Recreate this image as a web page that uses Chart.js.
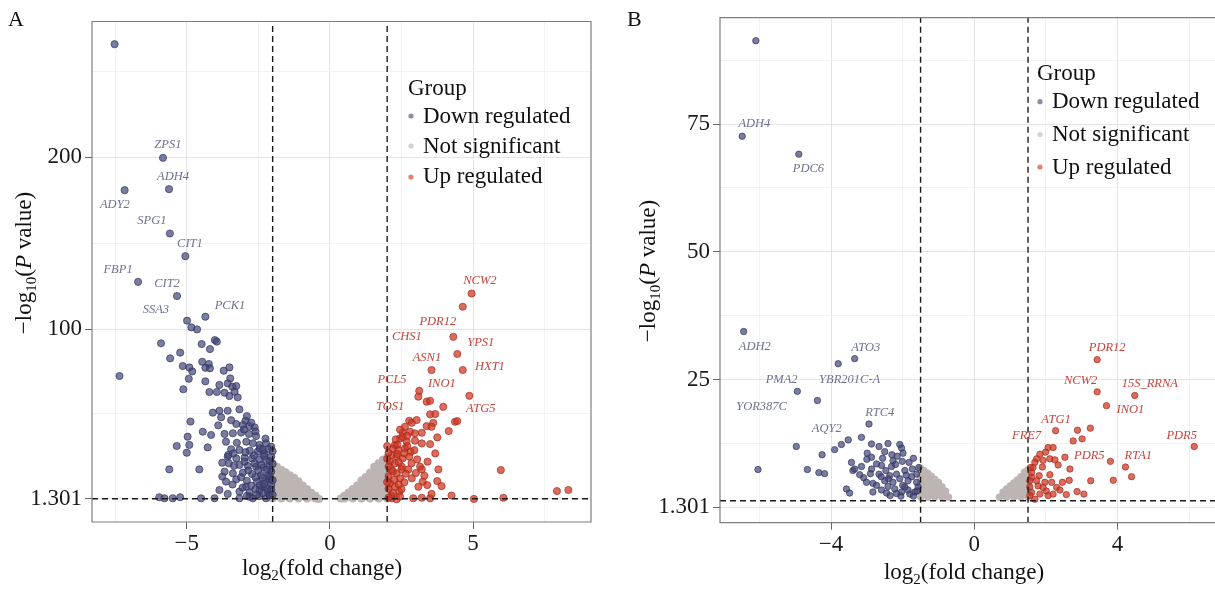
<!DOCTYPE html>
<html>
<head>
<meta charset="utf-8">
<script src="https://cdn.jsdelivr.net/npm/chart.js@4.4.1/dist/chart.umd.min.js"></script>
<style>
  html, body { margin: 0; padding: 0; background: #fff; }
  #wrap { position: relative; width: 1215px; height: 589px; overflow: hidden; }
  .panel { position: absolute; top: 0; height: 589px; }
</style>
</head>
<body>
<div id="wrap">
  <div class="panel" style="left:0;width:607px"><canvas id="chartA" width="607" height="589"></canvas></div>
  <div class="panel" style="left:607px;width:608px"><canvas id="chartB" width="608" height="589"></canvas></div>
</div>
<script>
const groups = ['Down regulated', 'Not significant', 'Up regulated'];

// ---- panel A : [log2 fold change, -log10 P] ----
const downA = [
  [-7.52,265.7],[-5.83,199.6],[-7.17,180.8],[-5.62,181.4],[-5.59,155.6],[-5.05,142.4],[-6.70,127.5],[-5.34,119.2],
  [-4.35,107.2],[-4.99,104.9],[-4.84,101.0],[-4.64,99.8],[-5.90,91.7],[-4.02,93.6],[-3.95,92.7],[-4.48,91.3],
  [-4.19,88.4],[-5.23,86.3],[-5.58,83.0],[-4.46,81.0],[-4.23,79.7],[-5.14,78.5],[-4.91,77.7],[-4.35,77.5],
  [-4.19,77.2],[-4.81,75.4],[-3.71,75.8],[-3.51,77.7],[-7.35,72.7],[-4.93,71.1],[-4.35,69.6],[-3.86,67.5],
  [-3.48,71.3],[-3.57,68.4],[-3.41,66.5],[-3.27,66.9],[-5.12,65.0],[-4.21,63.4],[-3.95,63.4],[-3.68,63.0],
  [-3.51,61.1],[-3.22,60.3],[-3.33,63.6],[-4.09,51.4],[-3.86,52.5],[-3.57,52.5],[-3.80,48.7],[-3.16,53.3],
  [-2.90,49.4],[-2.95,46.7],[-4.87,46.2],[-3.27,44.8],[-3.04,44.2],[-2.81,43.6],[-2.63,42.9],[-4.44,40.3],
  [-4.15,38.4],[-3.68,39.0],[-3.39,39.4],[-3.10,39.8],[-2.83,39.0],[-2.58,37.8],[-4.97,37.4],[-3.63,34.5],
  [-3.25,33.9],[-2.92,34.5],[-2.69,33.6],[-2.46,32.6],[-4.91,32.6],[-5.35,32.0],[-4.27,31.2],[-3.45,30.1],
  [-3.16,29.7],[-2.80,29.3],[-2.52,28.7],[-2.29,27.7],[-5.00,28.1],[-3.57,25.8],[-3.27,24.8],[-2.98,25.2],
  [-2.72,24.8],[-2.46,24.2],[-2.23,23.9],[-3.53,21.9],[-3.16,21.0],[-2.87,20.4],[-2.58,20.0],[-2.32,19.6],
  [-2.11,20.4],[-5.61,18.4],[-4.56,18.4],[-3.68,17.1],[-3.39,16.1],[-3.04,16.5],[-2.72,15.7],[-2.40,15.1],
  [-2.13,15.7],[-3.76,14.2],[-3.27,12.6],[-2.90,11.8],[-2.55,11.3],[-2.25,11.8],[-3.86,6.4],[-3.57,4.1],
  [-3.16,5.5],[-2.81,4.9],[-2.46,6.4],[-2.17,5.5],[-5.96,2.2],[-5.78,1.6],[-5.49,1.6],[-5.23,2.2],
  [-4.50,1.6],[-4.03,1.6],[-3.16,1.6],[-2.69,1.6],[-2.23,1.6],[-2.93,8.4],[-2.34,8.4],[-2.05,9.3],
  [-2.05,25.8],[-2.05,31.6],[-2.23,33.6],[-2.34,29.7],[-2.63,21.9],[-2.98,22.9],[-3.37,27.7],[-3.76,22.3],
  [-3.63,11.3],[-2.11,3.5],[-2.46,2.9],[-2.81,2.5],
  [-2.15,30.2],[-2.30,26.1],[-2.10,23.2],[-2.40,21.0],[-2.20,18.3],[-2.05,17.2],[-2.50,17.8],[-2.35,13.6],
  [-2.10,12.8],[-2.60,13.9],[-2.75,8.9],[-2.45,9.2],[-2.20,7.4],[-2.05,6.6],[-2.60,6.9],[-2.35,4.5],
  [-2.10,3.2],[-2.55,3.6],[-2.90,3.0],[-3.05,7.8],[-3.40,9.6],[-3.10,13.9],[-2.85,17.8],[-2.65,26.5],
  [-2.45,30.6],[-2.95,28.4],[-3.35,20.5],[-3.55,26.8],[-2.25,36.3],[-2.60,40.5],[-3.00,41.6],[-2.75,45.6],
  [-3.45,47.0],[-3.90,44.0],[-2.10,14.4],[-2.30,9.8],[-2.00,28.9],[-2.00,21.6],[-2.00,12.1],[-2.00,3.6]
];
const notA = [
  [-2.0,1.5],[-2.0,4.5],[-2.0,7.5],[-2.0,10.5],[-2.0,13.5],[-2.0,16.5],[-2.0,19.5],[-2.0,22],
  [-1.85,3],[-1.85,6],[-1.85,9],[-1.85,12],[-1.85,15],[-1.85,18],[-1.85,20],
  [-1.7,1.5],[-1.7,4.5],[-1.7,7.5],[-1.7,10.5],[-1.7,13.5],[-1.7,16.5],[-1.7,18.2],
  [-1.55,3],[-1.55,6],[-1.55,9],[-1.55,12],[-1.55,15],[-1.55,16.8],
  [-1.4,1.5],[-1.4,4.5],[-1.4,7.5],[-1.4,10.5],[-1.4,13.5],[-1.4,15],
  [-1.25,3],[-1.25,6],[-1.25,9],[-1.25,12],[-1.25,13.5],
  [-1.1,1.5],[-1.1,4.5],[-1.1,7.5],[-1.1,10.5],[-1.1,11.5],
  [-0.95,3],[-0.95,6],[-0.95,9],
  [-0.8,1.5],[-0.8,4.5],[-0.8,7],
  [-0.65,2.5],[-0.65,4.8],
  [-0.5,1.5],[-0.5,3],
  [-0.38,1.2],
  [2.0,1.5],[2.0,4.5],[2.0,7.5],[2.0,10.5],[2.0,13.5],[2.0,16.5],[2.0,19.5],[2.0,22.5],[2.0,25.5],
  [1.85,3],[1.85,6],[1.85,9],[1.85,12],[1.85,15],[1.85,18],[1.85,21],[1.85,24],
  [1.7,1.5],[1.7,4.5],[1.7,7.5],[1.7,10.5],[1.7,13.5],[1.7,16.5],[1.7,19.5],[1.7,22],
  [1.55,3],[1.55,6],[1.55,9],[1.55,12],[1.55,15],[1.55,18],[1.55,20],
  [1.4,1.5],[1.4,4.5],[1.4,7.5],[1.4,10.5],[1.4,13.5],[1.4,16.5],
  [1.25,3],[1.25,6],[1.25,9],[1.25,12],[1.25,14],
  [1.1,1.5],[1.1,4.5],[1.1,7.5],[1.1,10.5],[1.1,12],
  [0.95,3],[0.95,6],[0.95,9],
  [0.8,1.5],[0.8,4.5],[0.8,7],
  [0.65,2.5],[0.65,5],
  [0.5,1.5],[0.5,3],
  [0.38,1.5]
];
const upA = [
  [4.95,120.7],[4.64,113.0],[4.31,95.5],[4.45,85.5],[4.64,76.2],[3.55,76.2],[3.12,64.1],[3.09,60.7],
  [4.87,61.2],[3.38,57.8],[3.50,58.3],[3.96,54.8],[3.50,50.4],[3.68,50.6],[4.37,46.1],[4.45,46.5],
  [4.15,40.7],[2.77,46.7],[2.86,45.5],[3.03,47.1],[2.62,43.2],[3.61,45.5],[3.38,43.6],[3.55,43.2],
  [2.54,39.7],[2.80,40.3],[2.97,39.3],[3.21,39.7],[3.75,37.0],[2.27,32.6],[2.45,36.4],[2.68,34.5],
  [2.97,35.1],[3.21,33.5],[3.50,33.1],[2.39,29.7],[2.62,30.6],[2.82,28.7],[2.16,26.7],[2.33,25.8],
  [2.54,24.8],[2.77,25.8],[3.05,24.2],[3.68,27.7],[2.10,22.9],[2.27,21.9],[2.51,20.0],[2.74,18.4],
  [3.15,20.0],[3.41,22.9],[2.16,18.0],[2.33,16.1],[2.45,13.2],[2.86,13.2],[3.21,18.4],[3.79,18.4],
  [3.24,11.2],[3.40,9.3],[3.75,11.6],[3.09,8.3],[2.10,10.3],[2.27,8.3],[2.42,5.4],[2.16,1.6],
  [2.33,1.0],[2.91,1.6],[3.21,1.9],[3.50,1.6],[5.03,1.2],[6.06,1.9],[5.97,18.0],[7.93,5.8],
  [8.33,6.4],
  [2.05,28.1],[2.20,30.4],[2.05,20.1],[2.20,17.2],[2.40,22.6],[2.35,27.3],[2.05,14.5],[2.25,12.3],
  [2.40,9.6],[2.05,7.2],[2.20,4.6],[2.50,6.8],[2.60,10.9],[2.65,15.9],[2.50,18.4],[2.35,32.8],
  [2.55,37.2],[2.70,31.9],[2.85,22.0],[2.15,3.0],[2.05,2.0],[2.45,2.6],[2.30,35.8],[2.45,41.5],
  [2.70,38.0],[2.00,24.6],[2.00,32.0],[2.00,11.0],[2.95,29.6],[3.00,16.3],[3.30,14.7],[3.55,4.1],
  [3.90,8.7],[4.25,3.2],[2.60,27.8]
];
const genesA = [
  ['ZPS1',-5.66,207.1,0],['ADH4',-5.48,188.5,0],['ADY2',-7.51,172.2,0],['SPG1',-6.22,162.9,0],
  ['CIT1',-4.89,149.5,0],['FBP1',-7.40,134.4,0],['CIT2',-5.69,126.2,0],['SSA3',-6.08,111.1,0],
  ['PCK1',-3.49,113.4,0],
  ['NCW2',5.24,128.0,1],['PDR12',3.77,104.1,1],['CHS1',2.69,95.4,1],['YPS1',5.27,91.9,1],
  ['ASN1',3.39,83.2,1],['HXT1',5.59,78.0,1],['PCL5',2.17,70.4,1],['INO1',3.91,68.1,1],
  ['TOS1',2.10,54.7,1],['ATG5',5.27,53.5,1]
];
const xTicksA = [-5, 0, 5];
const xMinorA = [-7.5, -2.5, 2.5, 7.5];
const xLabelsA = ['\u22125', '0', '5'];
const yTicksA = [1.301, 100, 200];
const yMinorA = [50.65, 150, 250];
const yLabelsA = ['1.301', '100', '200'];

// ---- panel B ----
const downB = [
  [-6.10,91.3],[-6.48,72.6],[-4.90,69.1],
  [-6.44,34.4],[-3.34,29.1],[-3.80,28.1],[-4.94,22.7],[-4.38,20.9],[-2.94,16.3],[-4.97,11.9],[-6.04,7.4],
  [-4.66,7.4],[-4.34,6.8],[-4.18,6.6],[-4.25,10.3],[-3.90,11.3],[-3.71,12.3],[-3.52,13.2],[-3.15,13.7],
  [-2.87,12.4],[-2.66,11.9],[-2.41,12.5],[-2.08,12.3],[-2.03,11.6],[-1.99,10.6],[-2.99,10.6],[-3.43,8.8],
  [-3.15,8.0],[-3.39,7.2],[-3.34,7.5],[-3.09,5.8],[-2.87,7.5],[-2.73,8.5],[-2.56,9.6],[-2.27,9.1],
  [-2.01,9.0],[-1.82,8.8],[-3.01,4.9],[-2.83,4.7],[-2.66,6.5],[-2.47,7.2],[-2.31,8.0],[-2.17,6.5],
  [-1.94,7.2],[-1.73,7.5],[-1.61,6.5],[-3.57,3.6],[-3.48,2.8],[-2.83,3.0],[-2.59,3.4],[-2.41,4.1],
  [-2.22,3.6],[-2.03,3.0],[-1.85,3.4],[-1.66,3.0],[-2.45,2.8],[-2.27,4.9],[-2.08,5.6],[-1.85,5.2],
  [-1.61,4.9],[-2.50,5.2],[-2.73,4.3],[-2.36,6.2],[-2.59,8.2],[-1.75,6.0],[-1.57,4.0],[-1.94,4.0],
  [-2.17,2.7],[-2.87,9.8],
  [-2.30,10.3],[-2.50,10.9],[-1.70,9.6],[-1.55,7.8],[-1.60,3.2],[-1.80,2.6],[-2.00,4.3],[-2.60,6.0],
  [-2.20,8.4],[-1.90,6.3],[-2.40,5.6],[-2.15,10.0],[-2.05,2.2],[-1.70,2.2],[-2.35,2.3],[-2.90,6.6],
  [-3.20,6.4],[-3.00,9.4]
];
const notB = [
  [-1.5,2],[-1.5,3],[-1.5,4],[-1.5,5],[-1.5,6],[-1.5,7],[-1.5,7.7],
  [-1.4,2.5],[-1.4,3.5],[-1.4,4.5],[-1.4,5.5],[-1.4,6.5],[-1.4,7.2],
  [-1.3,2],[-1.3,3],[-1.3,4],[-1.3,5],[-1.3,6],[-1.3,6.7],
  [-1.2,2.5],[-1.2,3.5],[-1.2,4.5],[-1.2,5.5],[-1.2,6.1],
  [-1.1,2],[-1.1,3],[-1.1,4],[-1.1,5],[-1.1,5.5],
  [-1.0,2.5],[-1.0,3.5],[-1.0,4.5],[-1.0,4.9],
  [-0.9,2],[-0.9,3],[-0.9,4],
  [-0.8,2.3],[-0.8,3.2],
  [-0.72,2],
  [1.5,2],[1.5,3],[1.5,4],[1.5,5],[1.5,6],[1.5,7],[1.5,7.4],
  [1.4,2.5],[1.4,3.5],[1.4,4.5],[1.4,5.5],[1.4,6.5],[1.4,6.9],
  [1.3,2],[1.3,3],[1.3,4],[1.3,5],[1.3,6],
  [1.2,2.5],[1.2,3.5],[1.2,4.5],[1.2,5.4],
  [1.1,2],[1.1,3],[1.1,4],[1.1,4.8],
  [1.0,2.5],[1.0,3.5],[1.0,4.2],
  [0.9,2],[0.9,3],[0.9,3.6],
  [0.8,2.3],[0.8,3],
  [0.7,2]
];
const upB = [
  [3.43,28.9],[3.43,22.6],[4.48,21.9],[3.69,19.9],[2.27,15.0],[2.88,15.1],[3.24,15.5],[2.76,13.0],
  [3.01,13.4],[6.14,11.9],[2.53,9.8],[3.80,9.0],[4.22,7.9],[4.39,6.0],[3.88,5.3],[3.25,5.2],
  [2.67,7.5],[2.65,5.3],[2.46,4.9],[2.16,4.9],[2.20,2.6],[2.57,2.5],[2.87,3.1],[3.06,2.6],
  [2.06,11.7],[2.20,11.7],[1.99,10.8],[1.83,10.4],[1.74,9.5],[1.92,9.2],[2.11,9.5],[2.25,9.3],
  [2.34,8.3],[1.90,7.9],[1.64,7.8],[2.11,6.4],[1.81,6.2],[1.60,5.9],[1.97,4.9],[1.78,4.2],
  [1.55,4.0],[1.60,2.9],[1.83,2.6],[2.01,3.2],[1.55,2.3],[1.69,1.6],[1.60,6.8],[1.69,8.8],
  [1.57,7.8],[1.55,5.2],[1.74,5.2],[1.92,3.9],[2.30,3.9],[2.06,2.3],[2.39,3.4]
];
const genesB = [
  ['ADH4',-6.14,75.0,0],['PDC6',-4.63,66.3,0],['ADH2',-6.13,31.5,0],['ATO3',-3.03,31.3,0],
  ['PMA2',-5.38,25.0,0],['YBR201C-A',-3.48,25.0,0],['YOR387C',-5.94,19.7,0],['RTC4',-2.64,18.5,0],
  ['AQY2',-4.12,15.4,0],
  ['PDR12',3.71,31.3,1],['NCW2',2.97,24.8,1],['15S_RRNA',4.90,24.2,1],['INO1',4.36,19.1,1],
  ['ATG1',2.28,17.1,1],['FRE7',1.46,14.0,1],['PDR5',5.79,14.0,1],['PDR5',3.21,10.1,1],['RTA1',4.58,10.2,1]
];
const xTicksB = [-4, 0, 4];
const xMinorB = [-6, -2, 2, 6];
const xLabelsB = ['\u22124', '0', '4'];
const yTicksB = [0, 25, 50, 75];
const yMinorB = [12.5, 37.5, 62.5, 87.5];
const yLabelsB = ['1.301', '25', '50', '75'];

const pCut = 1.301;

const serif = '"Liberation Serif", "Times New Roman", serif';
const fillCol = ['rgba(66,70,118,0.7)', '#bcb5b3', 'rgba(205,52,32,0.72)'];
const edgeCol = ['rgba(48,50,92,0.85)', '#bcb5b3', 'rgba(165,40,25,0.85)'];
const keyCol = ['#8b8dab', '#d4d1d0', '#e0846f'];
const labelCol = ['#6e7192', '#c8433a'];

function richText(ctx, parts, x, y) {
  let w = 0;
  parts.forEach(p => { ctx.font = p[1]; w += ctx.measureText(p[0]).width; });
  let cx = x - w / 2;
  parts.forEach(p => {
    ctx.font = p[1];
    ctx.fillText(p[0], cx, y + (p[2] || 0));
    cx += ctx.measureText(p[0]).width;
  });
}

function axis(o, ax) {
  const major = o[ax + 'Ticks'], minor = o[ax + 'Minor'], labels = o[ax + 'Labels'];
  const isMajor = c => c.tick && major.includes(c.tick.value);
  return {
    type: 'linear',
    min: o[ax + 'Min'],
    max: o[ax + 'Max'],
    afterBuildTicks: s => {
      s.ticks = major.concat(minor).sort((a, b) => a - b).map(v => ({ value: v }));
    },
    afterFit: s => {
      if (ax === 'x') s.height = o.xAxisH; else s.width = o.yAxisW;
      s.paddingLeft = 0; s.paddingRight = 0; s.paddingTop = 0; s.paddingBottom = 0;
    },
    ticks: {
      autoSkip: false,
      maxRotation: 0,
      padding: ax === 'x' ? 1 : 3,
      color: '#1a1a1a',
      font: { family: serif, size: 23 },
      callback: v => {
        const i = major.indexOf(v);
        return i < 0 ? '' : labels[i];
      }
    },
    grid: {
      drawTicks: true,
      tickLength: 7,
      color: c => isMajor(c) ? '#e4e4e4' : '#efefef',
      lineWidth: c => isMajor(c) ? 1 : 0.8,
      tickColor: c => isMajor(c) ? '#666' : 'rgba(0,0,0,0)',
      tickWidth: 1
    },
    border: { display: false }
  };
}

function overlay(o) {
  return {
    id: 'overlay' + o.letter,
    afterDraw(chart) {
      const { ctx, chartArea: a, scales: { x, y } } = chart;
      ctx.save();
      // panel frame (panel B is cut at the right edge of the figure)
      ctx.strokeStyle = '#7f7f7f';
      ctx.lineWidth = 1.2;
      ctx.beginPath();
      ctx.moveTo(a.right, a.top);
      ctx.lineTo(a.left, a.top);
      ctx.lineTo(a.left, a.bottom);
      ctx.lineTo(a.right, a.bottom);
      if (!o.openRight) ctx.closePath();
      ctx.stroke();

      // gene labels
      ctx.textAlign = 'center';
      ctx.textBaseline = 'middle';
      ctx.font = 'italic 12.5px ' + serif;
      o.genes.forEach(g => {
        ctx.fillStyle = labelCol[g[3]];
        ctx.fillText(g[0], x.getPixelForValue(g[1]), y.getPixelForValue(g[2]));
      });

      // legend
      ctx.textAlign = 'left';
      ctx.textBaseline = 'alphabetic';
      ctx.fillStyle = '#111';
      ctx.font = '23px ' + serif;
      ctx.fillText('Group', o.legend.x, o.legend.titleY);
      groups.forEach((g, i) => {
        ctx.fillStyle = keyCol[i];
        ctx.beginPath();
        ctx.arc(o.legend.x + 3, o.legend.dotY[i], 2.6, 0, Math.PI * 2);
        ctx.fill();
        ctx.fillStyle = '#111';
        ctx.fillText(g, o.legend.x + 15, o.legend.textY[i]);
      });

      // axis titles
      ctx.fillStyle = '#111';
      const big = '23px ' + serif, small = '15px ' + serif;
      richText(ctx, [['log', big], ['2', small, 5], ['(fold change)', big]], o.xTitle[0], o.xTitle[1]);
      ctx.save();
      ctx.translate(o.yTitle[0], o.yTitle[1]);
      ctx.rotate(-Math.PI / 2);
      richText(ctx, [['\u2212log', big], ['10', small, 5], ['(', big], ['P', 'italic ' + big], [' value)', big]], 0, 0);
      ctx.restore();

      // panel letter
      ctx.font = '22px ' + serif;
      ctx.fillText(o.letter, o.letterPos[0], o.letterPos[1]);
      ctx.restore();
    }
  };
}

function volcano(canvasId, o) {
  const pts = a => a.map(p => ({ x: p[0], y: p[1] }));
  const series = [o.down, o.not, o.up].map((d, i) => ({
    type: 'scatter',
    label: groups[i],
    data: pts(d),
    backgroundColor: fillCol[i],
    borderColor: edgeCol[i],
    borderWidth: i === 1 ? 0 : 0.8,
    pointRadius: i === 1 ? o.r + 0.4 : o.r,
    order: [2, 3, 1][i]
  }));
  const refLine = d => ({
    type: 'line',
    data: d,
    borderColor: '#1a1a1a',
    borderWidth: 1.4,
    borderDash: [6, 4],
    pointRadius: 0,
    fill: false,
    order: 0
  });
  const refs = [
    refLine([{ x: -o.fcCut, y: o.yMin }, { x: -o.fcCut, y: o.yMax }]),
    refLine([{ x: o.fcCut, y: o.yMin }, { x: o.fcCut, y: o.yMax }]),
    refLine([{ x: o.xMin, y: pCut }, { x: o.xMax, y: pCut }])
  ];
  return new Chart(document.getElementById(canvasId), {
    type: 'scatter',
    data: { datasets: series.concat(refs) },
    options: {
      responsive: false,
      animation: false,
      events: [],
      devicePixelRatio: 1,
      layout: { padding: o.pad, autoPadding: false },
      plugins: { legend: { display: false }, tooltip: { enabled: false } },
      scales: { x: axis(o, 'x'), y: axis(o, 'y') }
    },
    plugins: [overlay(o)]
  });
}

volcano('chartA', {
  letter: 'A', letterPos: [8, 26],
  down: downA, not: notA, up: upA, genes: genesA, r: 3.6, fcCut: 2,
  xMin: -8.31, xMax: 9.12, yMin: -12.2, yMax: 278.9,
  xTicks: xTicksA, xMinor: xMinorA, xLabels: xLabelsA,
  yTicks: yTicksA, yMinor: yMinorA, yLabels: yLabelsA,
  pad: { left: 0, top: 21.5, right: 16, bottom: 0 }, yAxisW: 92, xAxisH: 67,
  legend: { x: 408, titleY: 95, dotY: [116, 146, 177], textY: [123, 153, 183] },
  xTitle: [322, 575], yTitle: [31, 263]
});

volcano('chartB', {
  letter: 'B', letterPos: [20, 26], openRight: true,
  down: downB, not: notB, up: upB, genes: genesB, r: 3.2, fcCut: 1.5,
  xMin: -7.1, xMax: 6.72, yMin: -3.0, yMax: 95.8,
  xTicks: xTicksB, xMinor: xMinorB, xLabels: xLabelsB,
  yTicks: yTicksB, yMinor: yMinorB, yLabels: yLabelsB,
  pad: { left: 0, top: 17.7, right: 0, bottom: 0 }, yAxisW: 113, xAxisH: 66.3,
  legend: { x: 430, titleY: 80, dotY: [101.7, 134.5, 167], textY: [108, 141, 174] },
  xTitle: [357, 579], yTitle: [48, 271]
});
</script>
</body>
</html>
